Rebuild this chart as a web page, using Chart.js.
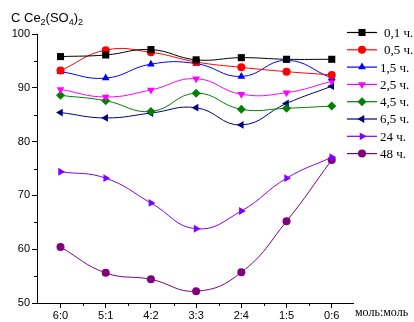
<!DOCTYPE html>
<html>
<head>
<meta charset="utf-8">
<script src="https://cdn.jsdelivr.net/npm/chart.js@4"></script>
<style>
  html, body { margin: 0; padding: 0; background: #fff; }
  #chart { display: block; }
</style>
</head>
<body>
<canvas id="chart" width="414" height="322"></canvas>
<script>
const xLabels = ["6:0", "5:1", "4:2", "3:3", "2:4", "1:5", "0:6"];
const seriesNames = ["0,1 ч.", "0,5 ч.", "1,5 ч.", "2,5 ч.", "4,5 ч.", "6,5 ч.", "24 ч.", "48 ч."];

const h01 = [95.8, 96.1, 97.1, 95.2, 95.6, 95.3, 95.3];
const h05 = [93.2, 97.0, 96.6, 94.8, 93.8, 93.0, 92.4];
const h15 = [93.0, 91.8, 94.4, 94.5, 92.1, 95.1, 91.8];
const h25 = [89.7, 88.3, 89.6, 91.7, 88.8, 89.1, 91.2];
const h45 = [88.6, 87.6, 85.6, 89.0, 86.0, 86.2, 86.6];
const h65 = [85.4, 84.4, 85.3, 86.3, 83.1, 87.1, 90.3];
const h24 = [74.4, 73.2, 68.6, 63.8, 67.1, 73.2, 77.1];
const h48 = [60.4, 55.6, 54.4, 52.2, 55.7, 65.2, 76.6];

const colors = ["#000000", "#ff0000", "#0000ff", "#ff00ff", "#008000", "#000080", "#8000ff", "#800080"];
const styles = ["rect", "circle", "triangle", "triangle", "rectRot", "triangle", "triangle", "circle"];
const rotations = [0, 0, 0, 180, 0, -90, 90, 0];
const radii = [5, 4, 4.5, 4.5, 4.5, 4.5, 4.5, 4];
const allValues = [h01, h05, h15, h25, h45, h65, h24, h48];

const datasets = allValues.map((vals, i) => ({
  label: seriesNames[i],
  data: vals.map((v, k) => ({ x: k, y: v })),
  borderColor: colors[i],
  backgroundColor: colors[i],
  borderWidth: 1,
  pointStyle: styles[i],
  rotation: rotations[i],
  pointRadius: radii[i],
  pointBorderWidth: 0,
  tension: 0.45
}));

// minor ticks, title, unit label and the legend on the right
const extras = {
  id: 'extras',
  afterDraw(c) {
    const ctx = c.ctx;
    const xs = c.scales.x, ys = c.scales.y;
    const a = c.chartArea;
    ctx.save();
    ctx.strokeStyle = '#000';
    ctx.lineWidth = 1;
    ctx.beginPath();
    for (let v = 55; v < 100; v += 10) {
      const py = Math.round(ys.getPixelForValue(v)) + 0.5;
      ctx.moveTo(a.left - 3, py);
      ctx.lineTo(a.left, py);
    }
    for (let v = 0.5; v < 6; v += 1) {
      const px = Math.round(xs.getPixelForValue(v)) + 0.5;
      ctx.moveTo(px, a.bottom);
      ctx.lineTo(px, a.bottom + 3);
    }
    ctx.stroke();

    // title C Ce2(SO4)2
    ctx.fillStyle = '#000';
    ctx.textBaseline = 'alphabetic';
    let x = 11, base = 22;
    const big = '13px "Liberation Sans", Arial, sans-serif';
    const small = '9px "Liberation Sans", Arial, sans-serif';
    const parts = [["C Ce", false], ["2", true], ["(SO", false], ["4", true], [")", false], ["2", true]];
    parts.forEach(([t, sub]) => {
      ctx.font = sub ? small : big;
      ctx.fillText(t, x, sub ? base + 3 : base);
      x += ctx.measureText(t).width;
    });

    // unit label
    ctx.font = '12px "Liberation Serif", "Times New Roman", serif';
    ctx.fillText('моль:моль', a.right + 2, 316);

    // legend
    ctx.font = '13px "Liberation Serif", "Times New Roman", serif';
    ctx.textBaseline = 'middle';
    c.data.datasets.forEach((ds, i) => {
      const y = 32.5 + i * 17.3;
      ctx.strokeStyle = ds.borderColor;
      ctx.lineWidth = 1.2;
      ctx.beginPath();
      ctx.moveTo(347, y);
      ctx.lineTo(377, y);
      ctx.stroke();
      ctx.fillStyle = ds.backgroundColor;
      Chart.helpers.drawPoint(ctx, {
        pointStyle: ds.pointStyle, rotation: ds.rotation,
        radius: ds.pointRadius, borderWidth: 0
      }, 362, y);
      ctx.fillStyle = '#000';
      ctx.fillText(ds.label, i < 2 ? 384 : 380, y + 1);
    });
    ctx.restore();
  }
};

const tickFont = { family: '"Liberation Sans", Arial, sans-serif', size: 11 };

new Chart(document.getElementById('chart'), {
  type: 'line',
  data: { datasets: datasets },
  options: {
    responsive: false,
    animation: false,
    layout: { padding: { top: 34, right: 61, left: 0, bottom: 0 } },
    plugins: { legend: { display: false }, tooltip: { enabled: false } },
    scales: {
      x: {
        type: 'linear',
        min: -0.52,
        max: 6.47,
        afterBuildTicks: s => { s.ticks = xLabels.map((_, i) => ({ value: i })); },
        afterFit: s => { s.height = 19; },
        ticks: { callback: v => xLabels[v], font: tickFont, color: '#000', padding: 1, maxRotation: 0, autoSkip: false },
        grid: { drawOnChartArea: false, color: '#000', tickLength: 5 },
        border: { color: '#000', width: 1 }
      },
      y: {
        min: 50,
        max: 100,
        afterFit: s => { s.width = 37; },
        ticks: { stepSize: 10, font: tickFont, color: '#000', padding: 2 },
        grid: { drawOnChartArea: false, color: '#000', tickLength: 5 },
        border: { color: '#000', width: 1 }
      }
    }
  },
  plugins: [extras]
});
</script>
</body>
</html>
